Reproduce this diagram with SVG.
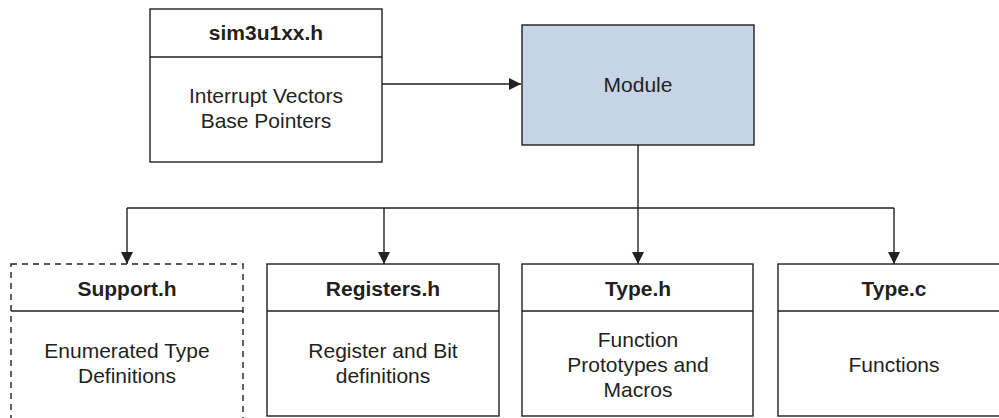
<svg xmlns="http://www.w3.org/2000/svg" width="999" height="418" viewBox="0 0 999 418">
<style>
.box{fill:#fff;stroke:#231f20;stroke-width:1.4}
.dash{fill:#fff;stroke:#231f20;stroke-width:1.4;stroke-dasharray:6,5}
.div{stroke:#231f20;stroke-width:1.4}
.t{font-family:"Liberation Sans",Arial,sans-serif;font-size:21px;fill:#231f20;text-anchor:middle}
.b{font-weight:bold}
.c{fill:none;stroke:#231f20;stroke-width:1.4}
</style>
<defs>
<marker id="ah" markerWidth="12" markerHeight="12" viewBox="0 0 12 12" refX="12" refY="6" orient="auto" markerUnits="userSpaceOnUse">
<path d="M0,0 L12,6 L0,12 Z" fill="#231f20"/>
</marker>
</defs>
<rect width="999" height="418" fill="#fff"/>
<g id="connectors">
<line class="c" x1="382" y1="84" x2="521" y2="84" marker-end="url(#ah)"/>
<line class="c" x1="638" y1="145" x2="638" y2="208"/>
<line class="c" x1="127" y1="208" x2="894" y2="208"/>
<line class="c" x1="127" y1="208" x2="127" y2="264" marker-end="url(#ah)"/>
<line class="c" x1="384" y1="208" x2="384" y2="264" marker-end="url(#ah)"/>
<line class="c" x1="638" y1="208" x2="638" y2="264" marker-end="url(#ah)"/>
<line class="c" x1="894" y1="208" x2="894" y2="264" marker-end="url(#ah)"/>
</g>
<g id="sim3u1xx">
<rect class="box" x="150" y="9" width="232" height="153"/>
<line class="div" x1="150" y1="57" x2="382" y2="57"/>
<text class="t b" x="266" y="40">sim3u1xx.h</text>
<text class="t" x="266" y="103">Interrupt Vectors</text>
<text class="t" x="266" y="128">Base Pointers</text>
</g>
<g id="module">
<rect x="522" y="25" width="232" height="120" fill="#c5d4e6" stroke="#231f20" stroke-width="1.4"/>
<text class="t" x="638" y="92">Module</text>
</g>
<g id="support">
<rect class="dash" x="11" y="264" width="232" height="160"/>
<line class="div" x1="11" y1="311" x2="243" y2="311"/>
<text class="t b" x="127" y="296">Support.h</text>
<text class="t" x="127" y="358">Enumerated Type</text>
<text class="t" x="127" y="383">Definitions</text>
</g>
<g id="registers">
<rect class="box" x="267" y="264" width="232" height="152"/>
<line class="div" x1="267" y1="311" x2="499" y2="311"/>
<text class="t b" x="383" y="296">Registers.h</text>
<text class="t" x="383" y="358">Register and Bit</text>
<text class="t" x="383" y="383">definitions</text>
</g>
<g id="typeh">
<rect class="box" x="522" y="264" width="231" height="152"/>
<line class="div" x1="522" y1="311" x2="753" y2="311"/>
<text class="t b" x="638" y="296">Type.h</text>
<text class="t" x="638" y="347">Function</text>
<text class="t" x="638" y="372">Prototypes and</text>
<text class="t" x="638" y="397">Macros</text>
</g>
<g id="typec">
<rect class="box" x="778" y="264" width="240" height="152"/>
<line class="div" x1="778" y1="311" x2="999" y2="311"/>
<text class="t b" x="894" y="296">Type.c</text>
<text class="t" x="894" y="372">Functions</text>
</g>
</svg>
